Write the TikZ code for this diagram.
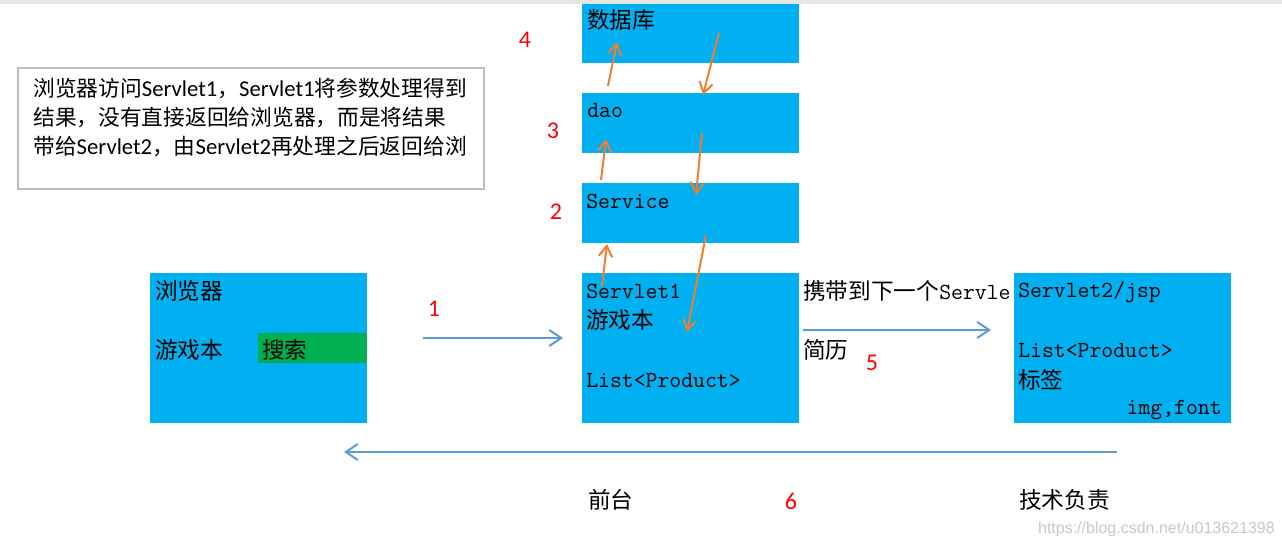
\documentclass[tikz,border=0pt]{standalone}
\usepackage{fontspec}
\usepackage{xcolor}
\usepackage{tikz}
\usetikzlibrary{arrows.meta}

\newfontfamily\cjk{Noto Sans CJK SC}
\newfontfamily\numfont{Carlito}
\newfontfamily\wmfont{Liberation Sans}

\definecolor{boxblue}{HTML}{00B0F0}
\definecolor{boxgreen}{HTML}{00B050}
\definecolor{flowblue}{HTML}{5B9BD5}
\definecolor{floworange}{HTML}{ED7D31}
\definecolor{notegray}{HTML}{BFBFBF}

\newcommand\zh[1]{{\cjk\fontsize{17}{20}\selectfont #1}}
\newcommand\en[1]{{\ttfamily\fontsize{17.3}{20}\selectfont #1}}
\newcommand\lat[1]{{\numfont\fontsize{17}{20}\selectfont #1}}

\tikzset{
	blk/.style={fill=boxblue, inner sep=0pt, minimum width=162.75pt},
	txt/.style={inner sep=0pt, anchor=west},
	stepnum/.style={text=red, inner sep=0pt, font=\numfont\fontsize{18}{20}\selectfont},
	call/.style={floworange, line width=1.5pt, -{Straight Barb[length=8pt,width=10pt]}},
	pass/.style={flowblue, line width=1.5pt, -{Straight Barb[length=9pt,width=12pt]}}
}

\begin{document}
\begin{tikzpicture}[x=0.75pt, y=-0.75pt]
			\useasboundingbox (0,0) rectangle (1282,549);
			\fill [black!10] (0,0) rectangle (1282,4);

			% boxes
			\node [blk, minimum height=44.25pt] (db) at (690.5,33.5) {};
			\node [blk, minimum height=45pt] (dao) at (690.5,123) {};
			\node [blk, minimum height=45pt] (service) at (690.5,213) {};
			\node [blk, minimum height=112.5pt] (servlet1) at (690.5,348) {};
			\node [blk, minimum height=112.5pt] (browser) at (258.5,348) {};
			\node [fill=boxgreen, inner sep=0pt, minimum width=81.75pt, minimum height=22.5pt] (search) at (312.5,348) {};

			% note
			\node [draw=notegray, line width=1.5pt, minimum width=349.5pt, minimum height=90.75pt] (note) at (251,128.5) {};
			\node [txt, align=left, font=\cjk\fontsize{16.3}{21.75}\selectfont] (notetext) at (33,117)
			{
				浏览器访问\lat{Servlet1}，\lat{Servlet1}将参数处理得到\\
				结果，没有直接返回给浏览器，而是将结果\\
				带给\lat{Servlet2}，由\lat{Servlet2}再处理之后返回给浏
			};

			% texts in boxes
			\node [txt] (dbtext) at (587,20) {\zh{数据库}};
			\node [txt] (daotext) at (587,111) {\en{dao}};
			\node [txt] (servicetext) at (586,201) {\en{Service}};
			\node [txt] (s1name) at (586,291) {\en{Servlet1}};
			\node [txt] (s1query) at (586,320) {\zh{游戏本}};
			\node [txt] (s1list) at (586,381) {\en{List<Product>}};
			\node [txt] (browsername) at (155,291) {\zh{浏览器}};
			\node [txt] (browserquery) at (155,350) {\zh{游戏本}};
			\node [txt] (searchtext) at (262,350) {\zh{搜索}};
			\node [txt] (carry) at (803,291) {\zh{携带到下一个}\en{Servle}};
			\node [txt] (resume) at (803,350) {\zh{简历}};

			\node [blk, minimum height=112.5pt] (servlet2) at (1122.5,348) {};
			\node [txt] (s2name) at (1018,292) {\en{Servlet2/jsp}};
			\node [txt] (s2list) at (1018,351) {\en{List<Product>}};
			\node [txt] (s2tag) at (1018,380) {\zh{标签}};
			\node [inner sep=0pt, anchor=east] (s2attr) at (1222,410) {\en{img,font}};

			\node [txt] (front) at (588,500) {\zh{前台}};
			\node [txt] (tech) at (1019,500) {\zh{技术负责}};

			% step numbers
			\node [stepnum] (n1) at (434,309) {1};
			\node [stepnum] (n2) at (556,212) {2};
			\node [stepnum] (n3) at (553,131) {3};
			\node [stepnum] (n4) at (525,40) {4};
			\node [stepnum] (n5) at (872,363) {5};
			\node [stepnum] (n6) at (791,501) {6};

			% arrow ends
			\coordinate (a1) at (423,338);
			\coordinate (b1) at (563,338);
			\coordinate (a5) at (803,330);
			\coordinate (b5) at (991,330);
			\coordinate (a6) at (1117,452);
			\coordinate (b6) at (344,452);
			\coordinate (up1a) at (602,286);
			\coordinate (up1b) at (607,244);
			\coordinate (up2a) at (601,180);
			\coordinate (up2b) at (606,139);
			\coordinate (up3a) at (608,86);
			\coordinate (up3b) at (617,42);
			\coordinate (dn1a) at (719,33);
			\coordinate (dn1b) at (703,95);
			\coordinate (dn2a) at (702,133);
			\coordinate (dn2b) at (696,195);
			\coordinate (dn3a) at (706,235);
			\coordinate (dn3b) at (687,332);

			\draw [pass] (a1) -- (b1);
			\draw [pass] (a5) -- (b5);
			\draw [pass] (a6) -- (b6);
			\draw [call] (up1a) -- (up1b);
			\draw [call] (up2a) -- (up2b);
			\draw [call] (up3a) -- (up3b);
			\draw [call] (dn1a) -- (dn1b);
			\draw [call] (dn2a) -- (dn2b);
			\draw [call] (dn3a) -- (dn3b);

			\node [inner sep=0pt, anchor=east, text=black!22, font=\wmfont\fontsize{12}{14}\selectfont] (mark) at (1275,529) {https://blog.csdn.net/u013621398};
		\end{tikzpicture}
\end{document}
